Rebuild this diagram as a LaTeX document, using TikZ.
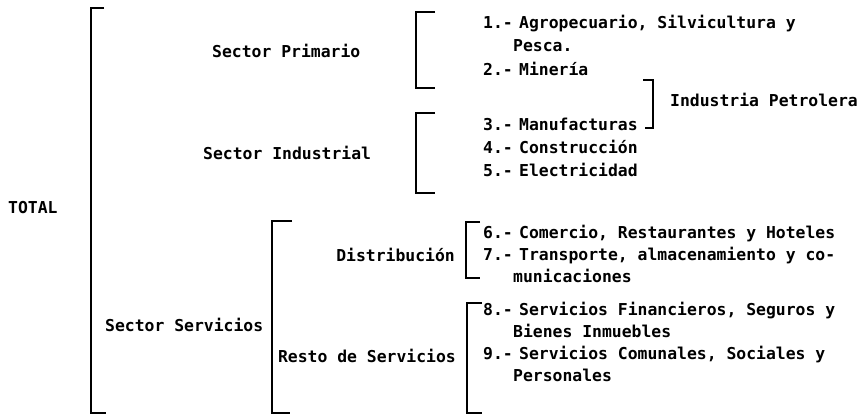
\documentclass[tikz,border=0pt]{standalone}
\usepackage{fontspec}
\setmonofont{DejaVu Sans Mono}
\begin{document}
\begin{tikzpicture}[x=1pt,y=-1pt,
  txt/.style={font=\ttfamily\bfseries\fontsize{16.4}{18}\selectfont, inner sep=0pt, anchor=base west},
  txtr/.style={txt, anchor=base east},
  brk/.style={line width=2pt, line join=miter}]
\useasboundingbox (0,0) rectangle (864,416);
% labels
\node[txt] (total) at (8,213) {TOTAL};
\node[txt] (sp) at (212,57) {Sector Primario};
\node[txt] (si) at (203,159) {Sector Industrial};
\node[txt] (ss) at (105,331) {Sector Servicios};
\node[txtr] (dist) at (455,261) {Distribución};
\node[txtr] (resto) at (456,362) {Resto de Servicios};
\node[txt] (ip) at (670,106) {Industria Petrolera};
% items
\node[txt] (n1) at (483,28) {1.-};
\node[txt] (t1) at (519,28) {Agropecuario, Silvicultura y};
\node[txt] (t1b) at (513,51) {Pesca.};
\node[txt] (n2) at (483,75) {2.-};
\node[txt] (t2) at (519,75) {Minería};
\node[txt] (n3) at (483,130) {3.-};
\node[txt] (t3) at (519,130) {Manufacturas};
\node[txt] (n4) at (483,153) {4.-};
\node[txt] (t4) at (519,153) {Construcción};
\node[txt] (n5) at (483,176) {5.-};
\node[txt] (t5) at (519,176) {Electricidad};
\node[txt] (n6) at (483,238) {6.-};
\node[txt] (t6) at (519,238) {Comercio, Restaurantes y Hoteles};
\node[txt] (n7) at (483,260) {7.-};
\node[txt] (t7) at (519,260) {Transporte, almacenamiento y co-};
\node[txt] (t7b) at (513,282) {municaciones};
\node[txt] (n8) at (483,315) {8.-};
\node[txt] (t8) at (519,315) {Servicios Financieros, Seguros y};
\node[txt] (t8b) at (513,337) {Bienes Inmuebles};
\node[txt] (n9) at (483,359) {9.-};
\node[txt] (t9) at (519,359) {Servicios Comunales, Sociales y};
\node[txt] (t9b) at (513,381) {Personales};
% brackets
\draw[brk] (104,8) -- (91,8) -- (91,413) -- (106,413);
\draw[brk] (435,12) -- (416,12) -- (416,88) -- (435,88);
\draw[brk] (435,113) -- (416,113) -- (416,193) -- (435,193);
\draw[brk] (292,221) -- (272,221) -- (272,413) -- (290,413);
\draw[brk] (480,222) -- (466,222) -- (466,278) -- (480,278);
\draw[brk] (482,303) -- (467,303) -- (467,413) -- (482,413);
\draw[brk] (643,80) -- (653,80) -- (653,128) -- (645,128);
\end{tikzpicture}
\end{document}
